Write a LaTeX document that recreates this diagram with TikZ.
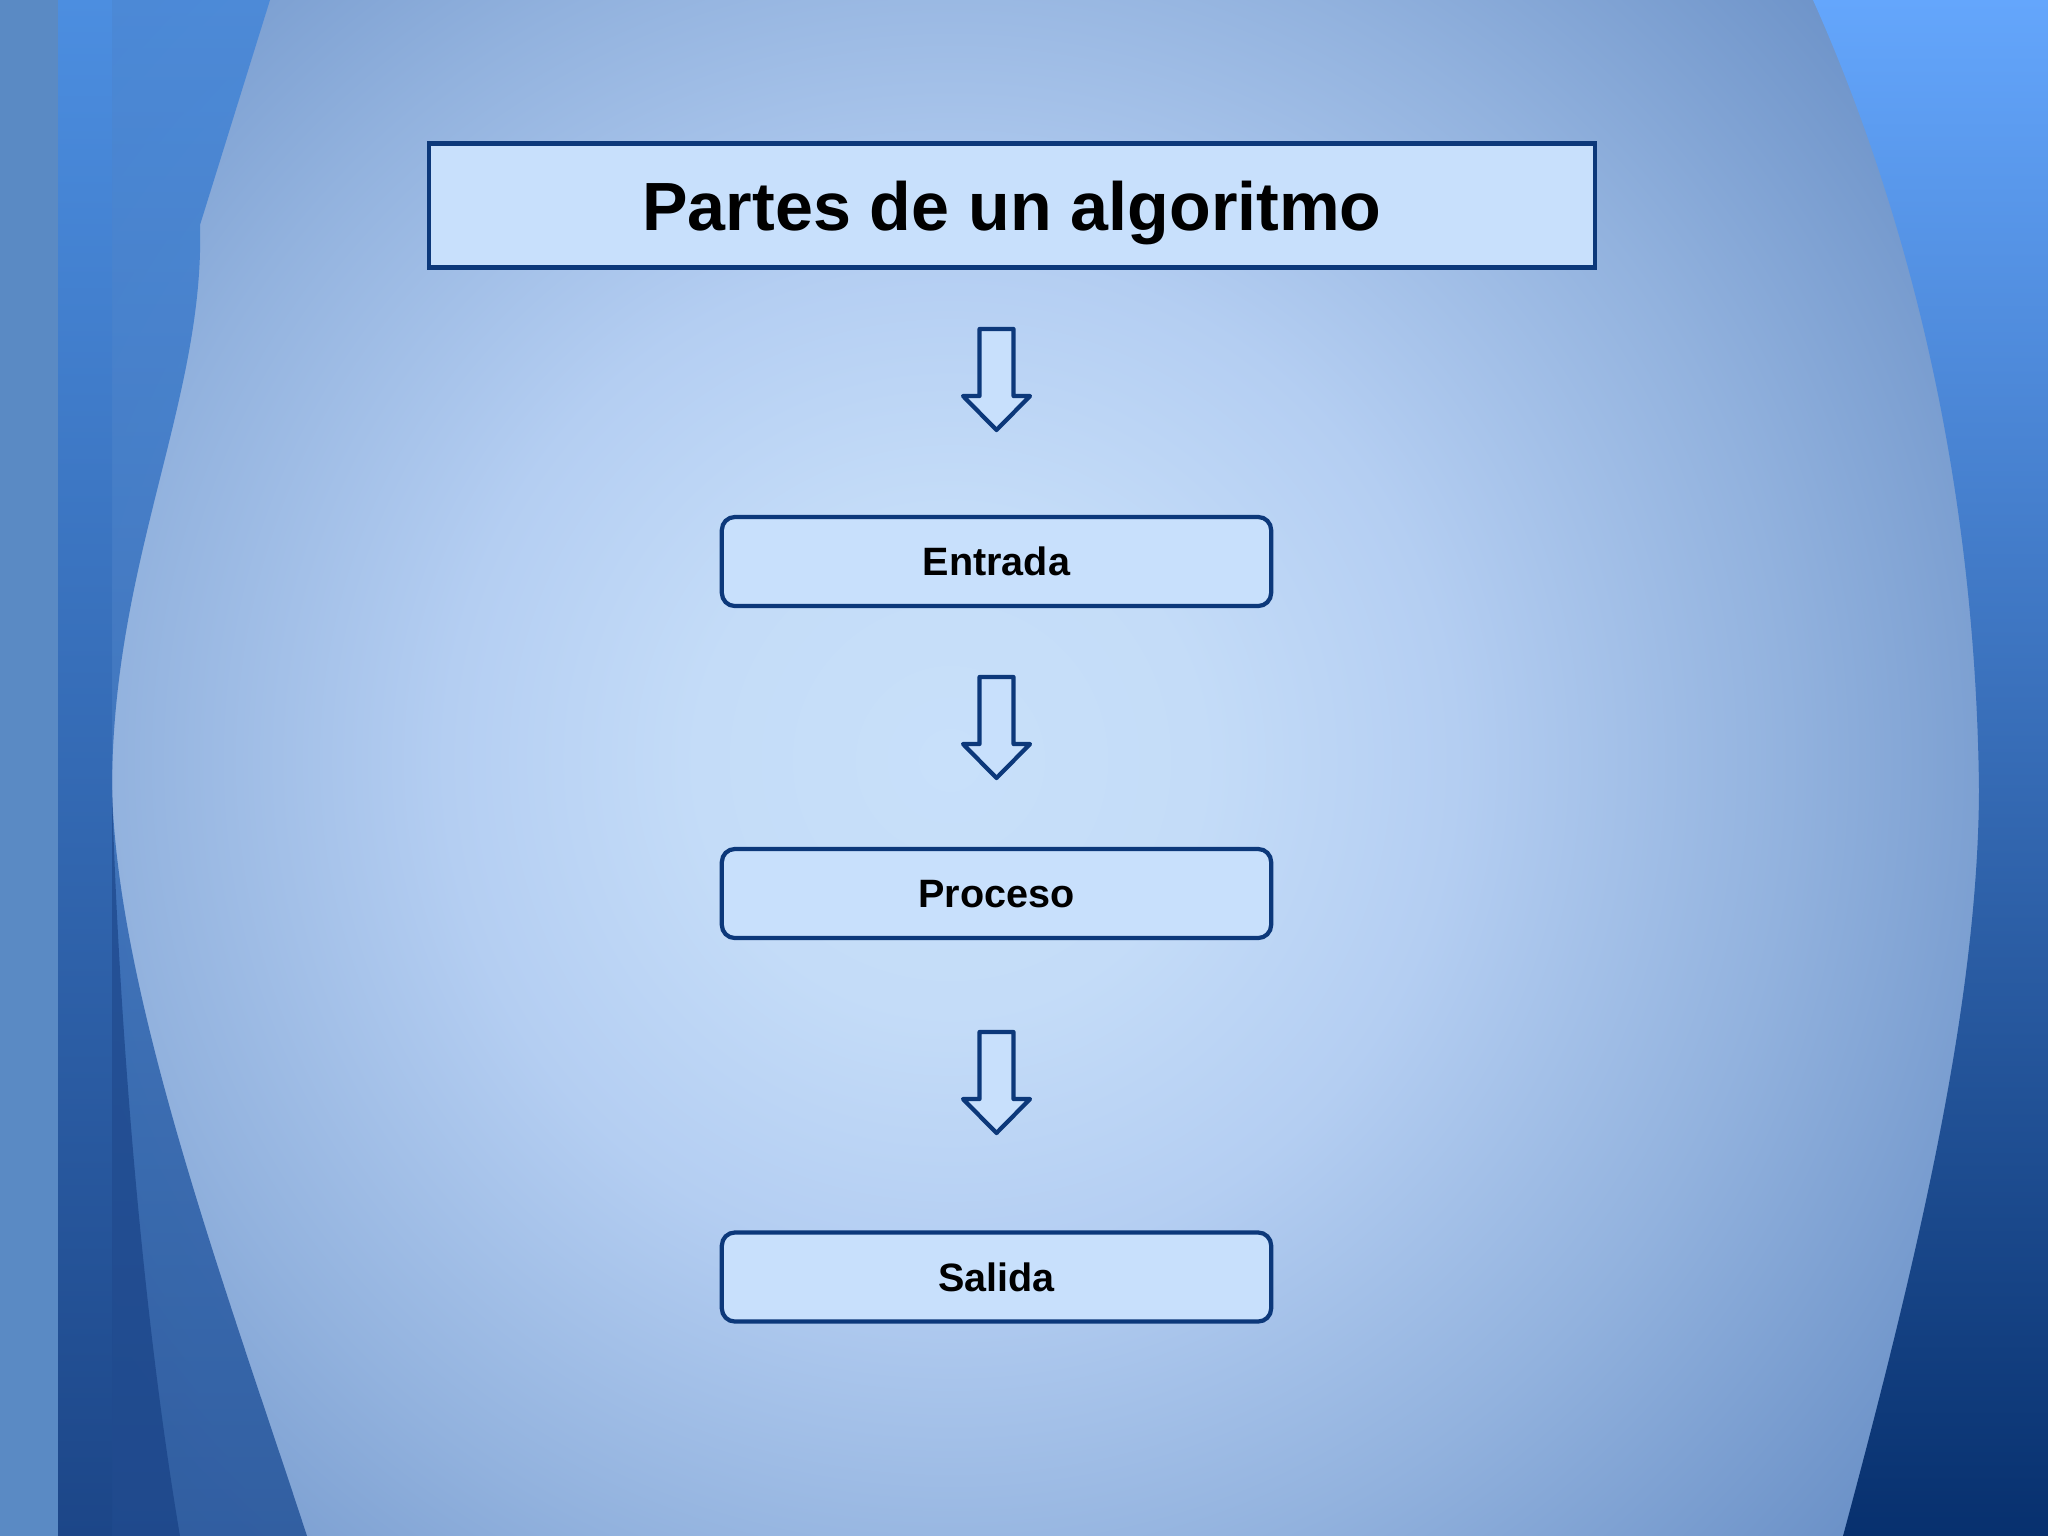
\documentclass[tikz,border=0pt]{standalone}
\usepackage{fontspec}
\setmainfont{Liberation Sans}
\definecolor{fondoin}{RGB}{200,224,250}
\definecolor{fondoa}{RGB}{196,220,248}
\definecolor{fondob}{RGB}{180,206,242}
\definecolor{fondoc}{RGB}{146,178,222}
\definecolor{fondoout}{RGB}{108,146,200}
\definecolor{fondoend}{RGB}{98,136,192}
\definecolor{cajafill}{RGB}{200,224,252}
\definecolor{borde}{RGB}{12,56,122}
\definecolor{franja}{RGB}{90,138,196}
\definecolor{bandaarr}{RGB}{76,142,224}
\definecolor{bandamed}{RGB}{48,96,162}
\definecolor{bandaab}{RGB}{28,70,136}
\definecolor{olaarr}{RGB}{72,136,216}
\definecolor{olaab}{RGB}{42,88,156}
\definecolor{olaosc}{RGB}{20,60,128}
\definecolor{derarr}{RGB}{100,166,252}
\definecolor{dermed}{RGB}{58,114,200}
\definecolor{derab}{RGB}{7,48,110}
\pgfdeclareradialshading{fondo}{\pgfpoint{0bp}{0bp}}{color(0bp)=(fondoin); color(4.5bp)=(fondoa); color(9bp)=(fondob); color(15bp)=(fondoc); color(21bp)=(fondoout); color(25bp)=(fondoend); color(50bp)=(fondoend)}
\tikzset{
  titulo/.style={draw=borde, line width=1.3pt, fill=cajafill, minimum width=11.65cm,
    minimum height=1.24cm, text depth=0pt, font=\fontsize{19.4}{23}\selectfont\bfseries},
  caja/.style={draw=borde, line width=1.2pt, fill=cajafill, rounded corners=0.13cm,
    minimum width=5.49cm, minimum height=0.89cm, text depth=0pt,
    font=\fontsize{11.25}{13.5}\selectfont\bfseries},
  flecha/.style={draw=borde, line width=1.2pt, fill=cajafill, line join=round}
}
% block arrow pointing down: name, top centre
\newcommand\flechabajo[2]{
  \coordinate (#1) at (#2);
  \draw[flecha] (#1) ++(-17,0) -- ++(34,0) -- ++(0,67) -- ++(16.5,0) --
    ++(-33.5,34) -- ++(-33.5,-34) -- ++(16.5,0) -- cycle;
}
\begin{document}
\begin{tikzpicture}[x=0.01cm, y=-0.01cm]
\useasboundingbox (0,0) rectangle (2048,1536);
\clip (0,0) rectangle (2048,1536);

% background
\fill[fondoend] (0,0) rectangle (2048,1536);
\shade[shading=fondo] (950,760) circle (14cm);

% left curtain
\fill[franja] (0,0) rectangle (58,1536);
\shade[top color=bandaarr, middle color=bandamed, bottom color=bandaab] (58,0) rectangle (112,1536);
\shade[top color=olaarr, bottom color=olaab, opacity=0.9] (112,0) -- (270,0) -- (200,225)
  .. controls (205,400) and (112,560) .. (112,790)
  .. controls (118,1000) and (230,1300) .. (307,1536) -- (112,1536) -- cycle;
\fill[olaosc, opacity=0.6] (112,790)
  .. controls (118,1000) and (140,1300) .. (180,1536) -- (112,1536) -- cycle;

% right curtain
\shade[top color=derarr, middle color=dermed, bottom color=derab] (1813,0)
  .. controls (1880,150) and (1975,420) .. (1979,790)
  .. controls (1978,1000) and (1920,1250) .. (1843,1536) -- (2048,1536) -- (2048,0) -- cycle;

% diagram
\node[titulo] (titulo) at (1012,205.5) {Partes de un algoritmo};
\node[caja] (entrada) at (996.5,561.5) {Entrada};
\node[caja] (proceso) at (996.5,893.5) {Proceso};
\node[caja] (salida) at (996.5,1277) {Salida};

\flechabajo{f1}{996.5,329}
\flechabajo{f2}{996.5,677}
\flechabajo{f3}{996.5,1032}

\end{tikzpicture}
\end{document}
